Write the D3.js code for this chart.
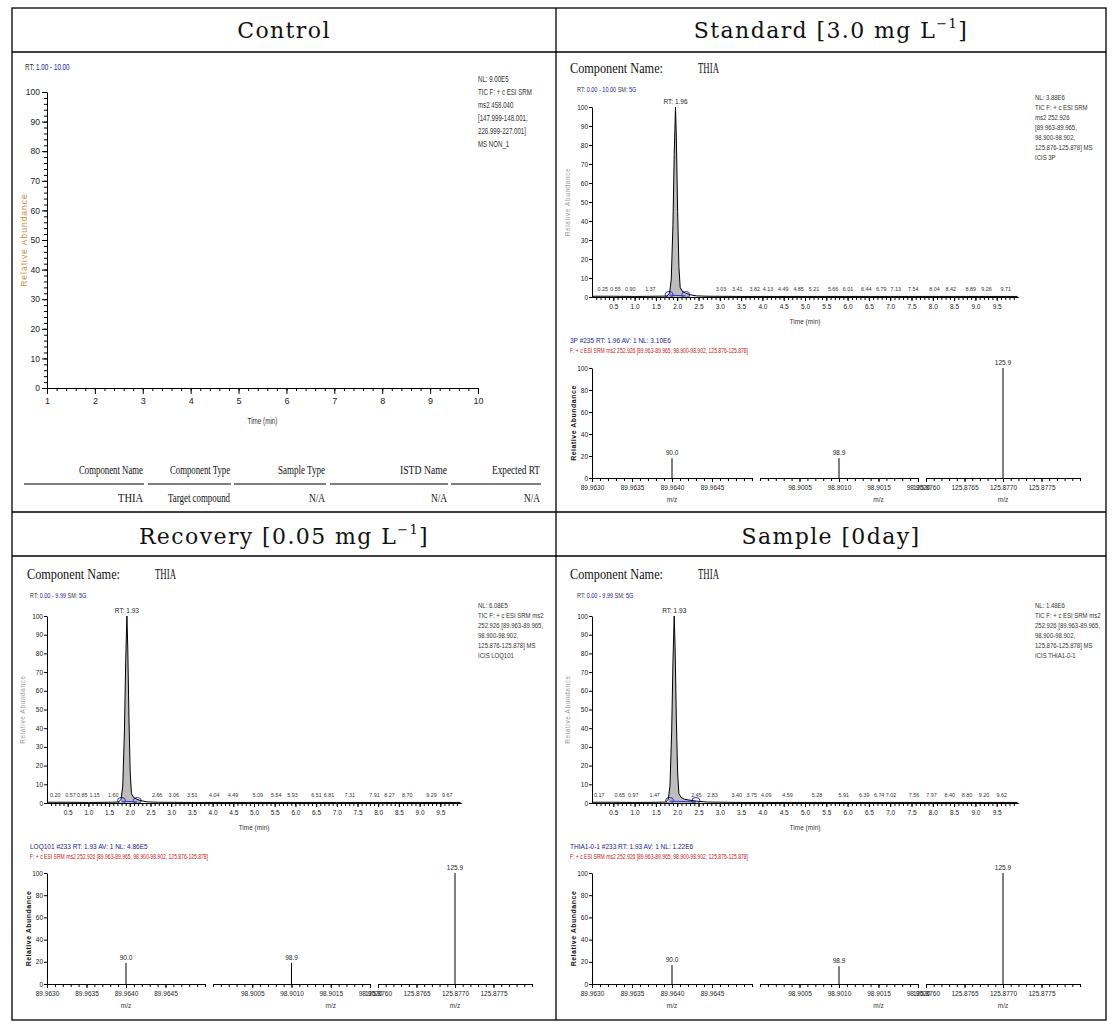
<!DOCTYPE html>
<html><head><meta charset="utf-8">
<script src="https://cdn.jsdelivr.net/npm/d3@7"></script>
<style>body{margin:0;background:#fff}</style>
</head><body>
<svg id="c" width="1116" height="1030" xmlns="http://www.w3.org/2000/svg"></svg>
<script>
// ================= DATA =================
const panelTitles = ["Control", "Standard [3.0 mg L", "Recovery [0.05 mg L", "Sample [0day]"];
const titleSup = ["", "\u22121", "\u22121", ""];
const titleTail = ["", "]", "]", ""];

// Control panel
const controlRangeText = "1.00 - 10.00";
const controlNL = ["NL: 9.00E5", "TIC F: + c ESI SRM", "ms2 458.040", "[147.999-148.001,", "226.999-227.001]", "MS NON_1"];
const controlTimeTicks = [1, 2, 3, 4, 5, 6, 7, 8, 9, 10];
const abundanceTicks = [0, 10, 20, 30, 40, 50, 60, 70, 80, 90, 100];
const tableHeaders = ["Component Name", "Component Type", "Sample Type", "ISTD Name", "Expected RT"];
const tableValues = ["THIA", "Target compound", "N/A", "N/A", "N/A"];

// Chromatograms (time min, relative abundance %)
const chromTimeTicks = [0.5, 1.0, 1.5, 2.0, 2.5, 3.0, 3.5, 4.0, 4.5, 5.0, 5.5, 6.0, 6.5, 7.0, 7.5, 8.0, 8.5, 9.0, 9.5];
const stdTrace = [[0,0.4],[0.5,0.4],[1.0,0.3],[1.5,0.4],[1.76,0.5],[1.82,2],[1.86,9],[1.90,38],[1.93,75],[1.96,100],[1.98,84],[2.01,45],[2.04,16],[2.07,5],[2.12,3],[2.2,2],[2.3,1.2],[2.45,0.6],[2.7,0.4],[3.5,0.3],[5,0.3],[7,0.3],[9.99,0.3]];
const recTrace = [[0,0.4],[0.5,0.4],[1.0,0.3],[1.5,0.4],[1.73,0.5],[1.79,2],[1.83,9],[1.87,38],[1.90,75],[1.93,100],[1.95,84],[1.98,45],[2.01,16],[2.04,5],[2.09,3],[2.17,2],[2.27,1.2],[2.42,0.6],[2.7,0.4],[3.5,0.3],[5,0.3],[7,0.3],[9.99,0.3]];
const smpTrace = [[0,0.4],[0.5,0.4],[1.0,0.3],[1.5,0.4],[1.73,0.5],[1.79,2],[1.83,9],[1.87,38],[1.90,75],[1.93,100],[1.95,84],[1.98,45],[2.01,16],[2.04,5],[2.09,3],[2.17,2],[2.3,1.5],[2.45,1.0],[2.7,0.5],[3.5,0.3],[5,0.3],[7,0.3],[9.99,0.3]];
const stdPeakTimes = ["0.25","0.55","0.90","1.37","3.03","3.41","3.82","4.13","4.49","4.85","5.21","5.66","6.01","6.44","6.79","7.13","7.54","8.04","8.42","8.89","9.26","9.71"];
const recPeakTimes = ["0.20","0.57","0.85","1.15","1.60","2.66","3.06","3.51","4.04","4.49","5.09","5.54","5.93","6.51","6.81","7.31","7.91","8.27","8.70","9.29","9.67"];
const smpPeakTimes = ["0.17","0.65","0.97","1.47","2.45","2.83","3.40","3.75","4.09","4.59","5.28","5.91","6.39","6.74","7.02","7.56","7.97","8.40","8.80","9.20","9.62"];
const apexRT = [1.96, 1.93, 1.93];
const integBounds = [[1.81, 2.20], [1.80, 2.18], [1.82, 2.44]];
const rangeTexts = ["0.00 - 10.00", "0.00 - 9.99", "0.00 - 9.99"];
const stdNL = ["NL: 3.88E6", "TIC F: + c ESI SRM", "ms2 252.926", "[89.963-89.965,", "98.900-98.902,", "125.876-125.878]  MS", "ICIS 3P"];
const recNL = ["NL: 6.08E5", "TIC F: + c ESI SRM ms2", "252.926 [89.963-89.965,", "98.900-98.902,", "125.876-125.878]  MS", "ICIS LOQ101"];
const smpNL = ["NL: 1.48E6", "TIC F: + c ESI SRM ms2", "252.926 [89.963-89.965,", "98.900-98.902,", "125.876-125.878]  MS", "ICIS THIA1-0-1"];

// Spectra
const mzSegments = [[89.9630, 89.9650], [98.9000, 98.9020], [125.8760, 125.8780]];
const mzTicks = [[89.9630, 89.9635, 89.9640, 89.9645], [98.9005, 98.9010, 98.9015, 98.9020], [125.8760, 125.8765, 125.8770, 125.8775]];
const spectrumTicks = [0, 20, 40, 60, 80, 100];
const peakMz = [89.9640, 98.9010, 125.8770];
const peakLabels = ["90.0", "98.9", "125.9"];
const stdIntensity = [18, 18, 100];
const recIntensity = [19, 19, 100];
const smpIntensity = [17, 16, 100];
const scanHeaders = ["3P #235  RT: 1.96  AV: 1  NL: 3.10E6", "LOQ101 #233  RT: 1.93  AV: 1  NL: 4.86E5", "THIA1-0-1 #233  RT: 1.93  AV: 1  NL: 1.22E6"];
const filterLine = "F: + c ESI SRM ms2 252.926 [89.963-89.965, 98.900-98.902, 125.876-125.878]";

// ================= DRAW =================
const svg = d3.select("#c");
const SANS = "'Liberation Sans Narrow','Liberation Sans',Arial,sans-serif";
const SERIF = "'Liberation Serif','Times New Roman',serif";
const TITLE = "'DejaVu Serif','Liberation Serif',serif";

function txt(g, x, y, s, o = {}) {
  let host = g, tx = x, ty = y;
  if (o.cond) {
    host = g.append("g").attr("transform", `translate(${x},${y}) scale(${o.cond},1)`);
    tx = 0; ty = 0;
  }
  const t = host.append("text").attr("x", tx).attr("y", ty).text(s)
    .attr("font-family", o.ff || SANS).attr("font-size", o.fs || 7)
    .attr("fill", o.fill || "#222").attr("text-anchor", o.anchor || "start");
  if (o.len) t.attr("textLength", o.len).attr("lengthAdjust", "spacingAndGlyphs");
  if (o.fw) t.attr("font-weight", o.fw);
  return t;
}

// table frame
const frame = svg.append("g").attr("stroke", "#000").attr("stroke-width", 1.3).attr("fill", "none");
frame.append("rect").attr("x", 12).attr("y", 8).attr("width", 1094).attr("height", 1012);
frame.append("line").attr("x1", 556).attr("x2", 556).attr("y1", 8).attr("y2", 1020);
[52, 512, 556].forEach(yy => frame.append("line").attr("x1", 12).attr("x2", 1106).attr("y1", yy).attr("y2", yy));

// panel titles
const titlePos = [[284, 38], [831, 38], [284, 544], [831, 544]];
panelTitles.forEach((t, i) => {
  const te = svg.append("text").attr("x", titlePos[i][0]).attr("y", titlePos[i][1])
    .attr("text-anchor", "middle").attr("font-family", TITLE).attr("font-size", 22).attr("fill", "#111")
    .attr("letter-spacing", 1.4);
  te.append("tspan").text(t);
  if (titleSup[i]) te.append("tspan").text(titleSup[i]).attr("font-size", 13).attr("dy", -10);
  if (titleTail[i]) te.append("tspan").text(titleTail[i]).attr("dy", 10);
});

function styleAxis(sel, fs) {
  sel.attr("font-family", SANS).attr("font-size", fs);
  sel.selectAll("path,line").attr("stroke", "#000").attr("stroke-width", 1);
  sel.selectAll("text").attr("fill", "#222");
}

// ---------- Control panel ----------
(function () {
  const g = svg.append("g");
  const x = d3.scaleLinear().domain([1, 10]).range([47, 478]);
  const y = d3.scaleLinear().domain([0, 100]).range([388, 92]);
  const rt = txt(g, 25, 70, "RT: ", { fs: 9, fill: "#333", cond: 0.7 });
  rt.append("tspan").text(controlRangeText).attr("fill", "#1a1a8c");
  controlNL.forEach((s, i) => txt(g, 478, 82 + i * 13, s, { fs: 9, fill: "#333", cond: 0.68 }));
  const ax = g.append("g").attr("transform", "translate(0,388)")
    .call(d3.axisBottom(x).tickValues(controlTimeTicks).tickSize(6).tickSizeOuter(0).tickFormat(d3.format("d")).tickPadding(4));
  styleAxis(ax, 9);
  const axm = g.append("g").attr("transform", "translate(0,388)")
    .call(d3.axisBottom(x).tickValues(d3.range(1, 10.01, 0.2)).tickSize(3).tickSizeOuter(0).tickFormat(""));
  styleAxis(axm, 9);
  const ay = g.append("g").attr("transform", "translate(47,0)")
    .call(d3.axisLeft(y).tickValues(abundanceTicks).tickSize(5).tickSizeOuter(0).tickPadding(2));
  styleAxis(ay, 8.5);
  const aym = g.append("g").attr("transform", "translate(47,0)")
    .call(d3.axisLeft(y).tickValues(d3.range(0, 100.1, 2)).tickSize(3).tickSizeOuter(0).tickFormat(""));
  styleAxis(aym, 9);
  txt(g, x(5.5), 424, "Time (min)", { fs: 9, anchor: "middle", fill: "#333", cond: 0.7 });
  txt(g, 0, 0, "Relative Abundance", { fs: 8.5, anchor: "middle", fill: "#c8904a" })
    .attr("transform", `translate(27,${y(50)}) rotate(-90)`).attr("letter-spacing", 1);
  // table
  const colRight = [143, 230, 325, 447, 540];
  const colLeft = [24, 148, 234, 330, 451];
  const hdrLen = [64, 60, 47, 47, 48];
  const valLen = [25, 62, 16, 16, 16];
  tableHeaders.forEach((h, i) => {
    txt(g, colRight[i], 474, h, { ff: SERIF, fs: 13, anchor: "end", fill: "#111", len: hdrLen[i] });
    g.append("line").attr("x1", colLeft[i]).attr("x2", colRight[i] + 1).attr("y1", 484).attr("y2", 484).attr("stroke", "#000").attr("stroke-width", 1.2);
    txt(g, colRight[i], 502, tableValues[i], { ff: SERIF, fs: 13, anchor: "end", fill: "#111", len: valLen[i] });
  });
})();

// ---------- chromatogram ----------
function drawChrom(c) {
  const g = svg.append("g");
  const x = d3.scaleLinear().domain([0, 10]).range([c.left, c.right]);
  const y = d3.scaleLinear().domain([0, 100]).range([c.bottom, c.top]);
  txt(g, c.nameX, c.nameY, "Component Name:", { ff: SERIF, fs: 14, fill: "#111", len: 93 });
  txt(g, c.nameX + 128, c.nameY, "THIA", { ff: SERIF, fs: 14, fill: "#111", len: 21 });
  const rt = txt(g, c.rtX, c.rtY, "RT: ", { fs: 6.5, fill: "#333", cond: 0.85 });
  rt.append("tspan").text(c.range + "  ").attr("fill", "#1a1a8c");
  rt.append("tspan").text("SM: ").attr("fill", "#333");
  rt.append("tspan").text("5G").attr("fill", "#1a1a8c");
  c.nl.forEach((s, i) => txt(g, c.nlX, c.nlY + i * 10, s, { fs: 6.5, fill: "#333", cond: 0.92 }));

  // peak fill
  const peakPts = c.trace.filter(d => d[0] >= c.integ[0] - 0.05 && d[0] <= c.integ[1] + 0.1);
  g.append("path").datum(peakPts)
    .attr("d", d3.area().x(d => x(d[0])).y0(y(0)).y1(d => y(d[1])))
    .attr("fill", "#bdbdbd");
  // integration baseline
  g.append("line").attr("x1", x(c.integ[0])).attr("x2", x(c.integ[1]))
    .attr("y1", y(1)).attr("y2", y(0.6)).attr("stroke", "#3030d0").attr("stroke-width", 1);
  c.integ.forEach(t => g.append("ellipse").attr("cx", x(t)).attr("cy", y(0) - 2.5).attr("rx", 4).attr("ry", 3)
    .attr("fill", "none").attr("stroke", "#3030d0").attr("stroke-width", 1));
  g.append("path").datum(c.trace)
    .attr("d", d3.line().x(d => x(d[0])).y(d => y(d[1])))
    .attr("fill", "none").attr("stroke", "#000").attr("stroke-width", 1);

  const ax = g.append("g").attr("transform", `translate(0,${c.bottom})`)
    .call(d3.axisBottom(x).tickValues(chromTimeTicks).tickSize(4).tickSizeOuter(0).tickFormat(d3.format(".1f")).tickPadding(3));
  styleAxis(ax, 6.5);
  const axm = g.append("g").attr("transform", `translate(0,${c.bottom})`)
    .call(d3.axisBottom(x).tickValues(d3.range(0.1, 9.95, 0.1)).tickSize(3).tickSizeOuter(0).tickFormat(""));
  styleAxis(axm, 6.5);
  const ay = g.append("g").attr("transform", `translate(${c.left},0)`)
    .call(d3.axisLeft(y).tickValues(abundanceTicks).tickSize(3).tickSizeOuter(0).tickPadding(1));
  styleAxis(ay, 6.5);
  txt(g, x(5), c.bottom + 27, "Time (min)", { fs: 6.5, anchor: "middle", fill: "#333" });
  txt(g, 0, 0, "Relative Abundance", { fs: 6.5, anchor: "middle", fill: "#999" })
    .attr("transform", `translate(${c.left - 22},${y(50)}) rotate(-90)`).attr("letter-spacing", 0.6);
  txt(g, x(c.apex), y(100) - 3, "RT: " + c.apex.toFixed(2), { fs: 6.5, anchor: "middle", fill: "#222" });
  c.peaks.forEach(p => txt(g, x(+p), c.bottom - 6, p, { fs: 6, anchor: "middle", fill: "#333", cond: 0.9 }));
}

// ---------- spectrum ----------
function drawSpectrum(c) {
  const g = svg.append("g");
  const y = d3.scaleLinear().domain([0, 100]).range([c.bottom, c.top]);
  txt(g, c.hdrX, c.hdrY, c.header, { fs: 6.5, fill: "#1a1a8c" });
  txt(g, c.hdrX, c.hdrY + 10, filterLine, { fs: 6.5, fill: "#c01818", len: 178 });
  const ay = g.append("g").attr("transform", `translate(${c.segs[0][0]},0)`)
    .call(d3.axisLeft(y).tickValues(spectrumTicks).tickSize(3).tickSizeOuter(0).tickPadding(1));
  styleAxis(ay, 6.5);
  txt(g, 0, 0, "Relative Abundance", { fs: 7, anchor: "middle", fill: "#111", fw: "bold" })
    .attr("transform", `translate(${c.segs[0][0] - 16},${y(50)}) rotate(-90)`).attr("letter-spacing", 0.5);
  mzSegments.forEach((dom, i) => {
    const x = d3.scaleLinear().domain(dom).range(c.segs[i]);
    const ax = g.append("g").attr("transform", `translate(0,${c.bottom})`)
      .call(d3.axisBottom(x).tickValues(mzTicks[i]).tickSize(4).tickSizeOuter(0).tickFormat(d3.format(".4f")).tickPadding(3));
    styleAxis(ax, 6.5);
    const axm = g.append("g").attr("transform", `translate(0,${c.bottom})`)
      .call(d3.axisBottom(x).tickValues(d3.range(dom[0], dom[1] + 1e-7, 0.0001)).tickSize(3).tickSizeOuter(0).tickFormat(""));
    styleAxis(axm, 6.5);
    g.append("line").attr("x1", x(peakMz[i])).attr("x2", x(peakMz[i]))
      .attr("y1", y(0)).attr("y2", y(c.intens[i])).attr("stroke", "#000").attr("stroke-width", 1);
    txt(g, x(peakMz[i]), y(c.intens[i]) - 3, peakLabels[i], { fs: 6.5, anchor: "middle", fill: "#222" });
    txt(g, x(mzTicks[i][2]), c.bottom + 24, "m/z", { fs: 6.5, anchor: "middle", fill: "#333" });
  });
}

drawChrom({ left: 592, right: 1018, bottom: 297, top: 107, trace: stdTrace, peaks: stdPeakTimes, apex: apexRT[0], integ: integBounds[0],
  range: rangeTexts[0], nl: stdNL, nlX: 1035, nlY: 100, nameX: 570, nameY: 73, rtX: 577, rtY: 92 });
drawChrom({ left: 47, right: 461, bottom: 803, top: 616, trace: recTrace, peaks: recPeakTimes, apex: apexRT[1], integ: integBounds[1],
  range: rangeTexts[1], nl: recNL, nlX: 478, nlY: 608, nameX: 27, nameY: 579, rtX: 30, rtY: 598 });
drawChrom({ left: 592, right: 1018, bottom: 803, top: 616, trace: smpTrace, peaks: smpPeakTimes, apex: apexRT[2], integ: integBounds[2],
  range: rangeTexts[2], nl: smpNL, nlX: 1035, nlY: 608, nameX: 570, nameY: 579, rtX: 577, rtY: 598 });

drawSpectrum({ segs: [[592, 752], [760, 918], [926, 1080]], bottom: 478, top: 368, intens: stdIntensity, header: scanHeaders[0], hdrX: 570, hdrY: 343 });
drawSpectrum({ segs: [[47, 205], [213, 370], [378, 532]], bottom: 984, top: 873, intens: recIntensity, header: scanHeaders[1], hdrX: 30, hdrY: 849 });
drawSpectrum({ segs: [[592, 752], [760, 918], [926, 1080]], bottom: 984, top: 873, intens: smpIntensity, header: scanHeaders[2], hdrX: 570, hdrY: 849 });
</script>
</body></html>
